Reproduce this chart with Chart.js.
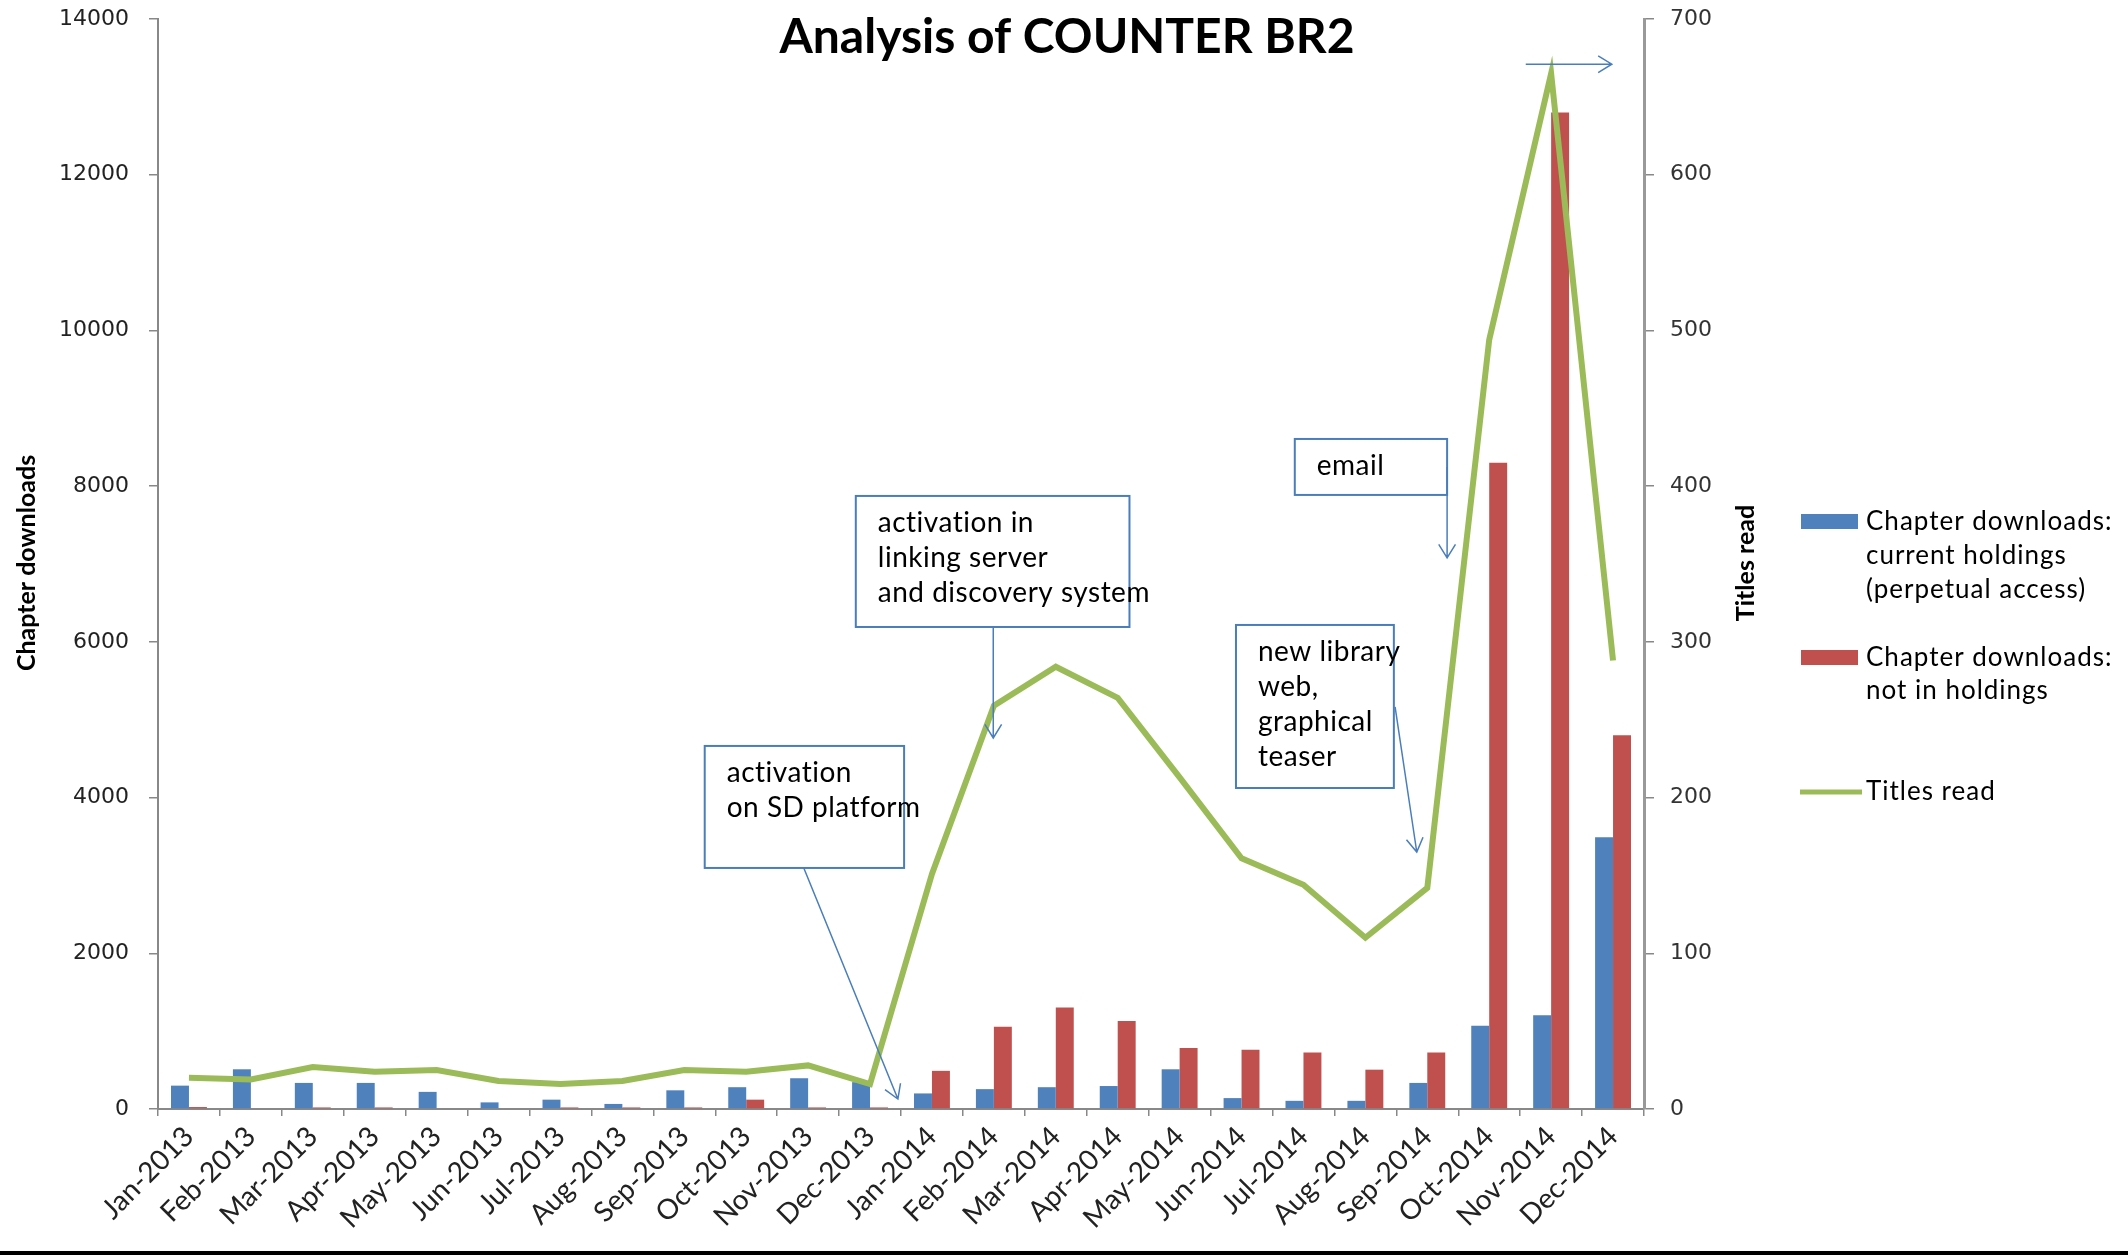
<!DOCTYPE html>
<html>
<head>
<meta charset="utf-8">
<title>Analysis of COUNTER BR2</title>
<script src="https://cdn.jsdelivr.net/npm/chart.js@4.4.1/dist/chart.umd.min.js"></script>
<style>
    html, body { margin: 0; padding: 0; background: #fff; }
    #wrap { position: relative; width: 2128px; height: 1255px; }
</style>
</head>
<body>
<div id="wrap"><canvas id="chart"></canvas></div>
<script>
const months = ['Jan-2013', 'Feb-2013', 'Mar-2013', 'Apr-2013', 'May-2013', 'Jun-2013',
    'Jul-2013', 'Aug-2013', 'Sep-2013', 'Oct-2013', 'Nov-2013', 'Dec-2013',
    'Jan-2014', 'Feb-2014', 'Mar-2014', 'Apr-2014', 'May-2014', 'Jun-2014',
    'Jul-2014', 'Aug-2014', 'Sep-2014', 'Oct-2014', 'Nov-2014', 'Dec-2014'];
const currentHoldings = [300, 510, 335, 335, 220, 85, 120, 65, 240, 280, 395, 345,
    200, 255, 280, 295, 510, 140, 105, 105, 335, 1070, 1205, 3490];
const notInHoldings = [25, 0, 20, 20, 0, 0, 20, 20, 20, 120, 20, 20,
    490, 1055, 1305, 1130, 785, 760, 725, 505, 725, 8300, 12800, 4800];
const titlesRead = [20, 19, 27, 24, 25, 18, 16, 18, 25, 24, 28, 16,
    151, 259, 284, 264, 213, 161, 144, 110, 142, 494, 665, 288];
const leftMax = 14000, leftStep = 2000;
const rightMax = 700, rightStep = 100;

// text boxes: x in category units, y in left-axis units
const notes = [
    { lines: ['activation', 'on SD platform'], box: [8.33, 11.55, 4663, 3096], arrow: [9.93, 3096, 11.45, 128] },
    { lines: ['activation in', 'linking server', 'and discovery system'], box: [10.77, 15.19, 7874, 6191], arrow: [12.99, 6191, 12.99, 4765] },
    { lines: ['email'], box: [17.86, 20.32, 8606, 7887], arrow: [20.32, 8246, 20.32, 7078] },
    { lines: ['new library', 'web,', 'graphical', 'teaser'], box: [16.91, 19.46, 6217, 4123], arrow: [19.48, 5164, 19.83, 3301] }
];
const loneArrow = [21.59, 13420, 22.98, 13420];

const BLUE = '#4F81BD', RED = '#C0504D', GREEN = '#9BBB59', NOTE = '#4A7EBB';

function drawArrow(ctx, x1, y1, x2, y2) {
    const a = Math.atan2(y2 - y1, x2 - x1);
    ctx.beginPath();
    ctx.moveTo(x1, y1);
    ctx.lineTo(x2, y2);
    ctx.moveTo(x2 - 16 * Math.cos(a - 0.55), y2 - 16 * Math.sin(a - 0.55));
    ctx.lineTo(x2, y2);
    ctx.lineTo(x2 - 16 * Math.cos(a + 0.55), y2 - 16 * Math.sin(a + 0.55));
    ctx.stroke();
}

// keep the plot area where the reference has it
function fixWidth(w) {
    return (scale) => {
        scale.width = w;
        scale.paddingTop = 0;
        scale.paddingBottom = 0;
    };
}

const overlay = {
    id: 'overlay',
    beforeDraw(chart) {
        const ctx = chart.ctx;
        ctx.save();
        ctx.fillStyle = '#fff';
        ctx.fillRect(0, 0, chart.width, chart.height);
        ctx.restore();
    },
    afterDatasetsDraw(chart) {
        const ctx = chart.ctx;
        const x = chart.scales.x, y = chart.scales.y;
        ctx.save();
        ctx.strokeStyle = NOTE;
        notes.forEach(n => {
            const left = x.getPixelForValue(n.box[0]), right = x.getPixelForValue(n.box[1]);
            const top = y.getPixelForValue(n.box[2]), bottom = y.getPixelForValue(n.box[3]);
            ctx.fillStyle = '#fff';
            ctx.fillRect(left, top, right - left, bottom - top);
            ctx.lineWidth = 2;
            ctx.strokeRect(left, top, right - left, bottom - top);
            ctx.fillStyle = '#000';
            ctx.font = '28px Lato';
            ctx.letterSpacing = '0.5px';
            ctx.textBaseline = 'middle';
            ctx.textAlign = 'left';
            n.lines.forEach((t, i) => ctx.fillText(t, left + 22, top + 27 + i * 35));
            ctx.lineWidth = 1.5;
            drawArrow(ctx, x.getPixelForValue(n.arrow[0]), y.getPixelForValue(n.arrow[1]),
                x.getPixelForValue(n.arrow[2]), y.getPixelForValue(n.arrow[3]));
        });
        drawArrow(ctx, x.getPixelForValue(loneArrow[0]), y.getPixelForValue(loneArrow[1]),
            x.getPixelForValue(loneArrow[2]), y.getPixelForValue(loneArrow[3]));
        ctx.restore();
    },
    afterDraw(chart) {
        const ctx = chart.ctx;
        ctx.save();
        ctx.fillStyle = '#000';
        ctx.textBaseline = 'middle';

        // title
        ctx.font = 'bold 48px Lato';
        ctx.textAlign = 'center';
        ctx.fillText('Analysis of COUNTER BR2', 1067, 38);

        // axis titles
        ctx.font = 'bold 25px Lato';
        ctx.save();
        ctx.translate(27, 563);
        ctx.rotate(-Math.PI / 2);
        ctx.fillText('Chapter downloads', 0, 0);
        ctx.restore();
        ctx.save();
        ctx.translate(1746, 563);
        ctx.rotate(-Math.PI / 2);
        ctx.fillText('Titles read', 0, 0);
        ctx.restore();

        // legend
        ctx.textAlign = 'left';
        ctx.font = '26px Lato';
        ctx.letterSpacing = '1px';
        ctx.fillStyle = BLUE;
        ctx.fillRect(1801, 514, 57, 15);
        ctx.fillStyle = RED;
        ctx.fillRect(1801, 650, 57, 15);
        ctx.strokeStyle = GREEN;
        ctx.lineWidth = 5;
        ctx.beginPath();
        ctx.moveTo(1800, 792);
        ctx.lineTo(1862, 792);
        ctx.stroke();
        ctx.fillStyle = '#000';
        ctx.fillText('Chapter downloads:', 1866, 522);
        ctx.fillText('current holdings', 1866, 556);
        ctx.fillText('(perpetual access)', 1866, 590);
        ctx.fillText('Chapter downloads:', 1866, 658);
        ctx.fillText('not in holdings', 1866, 691);
        ctx.fillText('Titles read', 1866, 792);

        // bottom frame bar
        ctx.fillRect(0, chart.height - 4, chart.width, 4);
        ctx.restore();
    }
};

new Chart(document.getElementById('chart'), {
    type: 'bar',
    data: {
        labels: months,
        datasets: [
            {
                type: 'line',
                label: 'Titles read',
                data: titlesRead,
                yAxisID: 'y1',
                borderColor: GREEN,
                borderWidth: 6,
                pointRadius: 0,
                tension: 0,
                order: 0
            },
            {
                label: 'Chapter downloads: current holdings (perpetual access)',
                data: currentHoldings,
                backgroundColor: BLUE,
                yAxisID: 'y',
                barPercentage: 1,
                categoryPercentage: 0.58,
                order: 1
            },
            {
                label: 'Chapter downloads: not in holdings',
                data: notInHoldings,
                backgroundColor: RED,
                yAxisID: 'y',
                barPercentage: 1,
                categoryPercentage: 0.58,
                order: 1
            }
        ]
    },
    options: {
        responsive: true,
        maintainAspectRatio: false,
        animation: false,
        layout: { padding: { top: 19, left: 0, right: 384, bottom: 0 } },
        plugins: {
            legend: { display: false },
            title: { display: false },
            tooltip: { enabled: false }
        },
        scales: {
            x: {
                grid: { display: true, drawOnChartArea: false, tickLength: 7, color: '#888', lineWidth: 1.5 },
                border: { display: true, color: '#888', width: 2 },
                ticks: {
                    autoSkip: false,
                    maxRotation: 45,
                    minRotation: 45,
                    color: '#222',
                    padding: 4,
                    font: { family: 'Lato', size: 28 }
                },
                afterFit: (scale) => { scale.height = 146; }
            },
            y: {
                position: 'left',
                min: 0,
                max: leftMax,
                grid: { display: true, drawOnChartArea: false, tickLength: 9, color: '#888', lineWidth: 1.5 },
                border: { display: true, color: '#888', width: 2 },
                ticks: {
                    stepSize: leftStep,
                    color: '#222',
                    padding: 20,
                    font: { family: 'DejaVu Sans', size: 22 },
                    callback: (v) => String(v)
                },
                afterFit: fixWidth(158)
            },
            y1: {
                position: 'right',
                min: 0,
                max: rightMax,
                grid: { display: true, drawOnChartArea: false, tickLength: 10, color: '#888', lineWidth: 1.5 },
                border: { display: true, color: '#999', width: 3 },
                ticks: {
                    stepSize: rightStep,
                    color: '#333',
                    padding: 16,
                    font: { family: 'DejaVu Sans', size: 22 },
                    callback: (v) => String(v)
                },
                afterFit: fixWidth(100)
            }
        }
    },
    plugins: [overlay]
});
</script>
</body>
</html>
